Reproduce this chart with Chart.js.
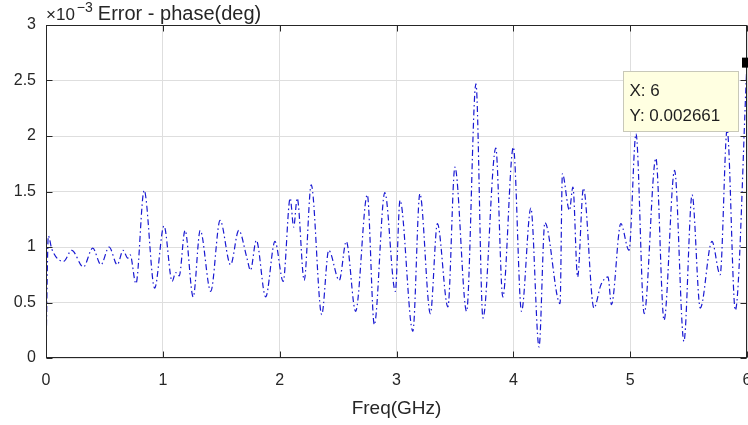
<!DOCTYPE html>
<html>
<head>
<meta charset="utf-8">
<script src="https://cdn.jsdelivr.net/npm/chart.js@4.4.1/dist/chart.umd.min.js"></script>
<style>
    html, body { margin: 0; padding: 0; background: #fff; }
    #wrap { width: 748px; height: 425px; }
</style>
</head>
<body>
<div id="wrap"><canvas id="errChart"></canvas></div>
<script>
// --- Data ---
// frequency (GHz) and phase error (x 1e-3 deg)
const freqGHz = [
    0.00, 0.02, 0.05, 0.15, 0.22, 0.32, 0.40, 0.47, 0.54, 0.61, 0.66, 0.70, 0.72, 0.77, 0.84, 0.93,
    1.01, 1.08, 1.11, 1.14, 1.19, 1.26, 1.32, 1.41, 1.49, 1.58, 1.65, 1.72, 1.75, 1.80, 1.88, 1.96,
    2.03, 2.09, 2.12, 2.15, 2.21, 2.27, 2.36, 2.42, 2.51, 2.57, 2.65, 2.75, 2.81, 2.90, 2.99,
    3.03, 3.14, 3.20, 3.29, 3.35, 3.44, 3.50, 3.60, 3.68, 3.74, 3.85, 3.91,
    4.00, 4.07, 4.15, 4.22, 4.27, 4.40, 4.42, 4.48, 4.51, 4.55, 4.60, 4.69, 4.75, 4.81, 4.84, 4.92, 4.99,
    5.05, 5.12, 5.22, 5.29, 5.38, 5.46, 5.53, 5.60, 5.70, 5.77, 5.83, 5.90, 6.00
];
const errPhase = [
    0.05, 1.10, 0.98, 0.87, 0.97, 0.82, 0.99, 0.84, 1.00, 0.84, 0.97, 0.90, 0.93, 0.67, 1.51, 0.63,
    1.19, 0.69, 0.77, 0.74, 1.15, 0.55, 1.15, 0.60, 1.24, 0.84, 1.15, 0.90, 0.79, 1.06, 0.55, 1.05,
    0.69, 1.44, 1.18, 1.44, 0.70, 1.56, 0.39, 0.97, 0.70, 1.05, 0.42, 1.47, 0.30, 1.49, 0.60,
    1.42, 0.24, 1.48, 0.40, 1.21, 0.46, 1.72, 0.42, 2.47, 0.36, 1.89, 0.55,
    1.90, 0.42, 1.35, 0.10, 1.22, 0.49, 1.66, 1.33, 1.54, 0.73, 1.53, 0.45, 0.66, 0.73, 0.48, 1.21, 0.97,
    2.02, 0.40, 1.80, 0.34, 1.69, 0.15, 1.47, 0.45, 1.05, 0.75, 2.06, 0.43, 2.661
];
const xTicks = [0, 1, 2, 3, 4, 5, 6];
const yTicks = [0, 0.5, 1, 1.5, 2, 2.5, 3];
const yExponent = -3;
const titleText = "Error - phase(deg)";
const xLabel = "Freq(GHz)";

const axisColor = "rgb(38,38,38)";
const gridColor = "rgb(222,222,222)";
const fontFamily = "'Liberation Sans', Arial, Helvetica, sans-serif";

// --- MATLAB-like decorations: box, inward ticks, exponent/title, datatip ---
const matlabAxes = {
    id: "matlabAxes",
    afterDatasetsDraw(chart) {
        const { ctx, chartArea: a, scales } = chart;
        const xs = scales.x, ys = scales.y;
        const L = Math.round(a.left) + 0.5, R = Math.round(a.right) - 0.5;
        const T = Math.round(a.top) + 0.5, B = Math.round(a.bottom) - 0.5;
        ctx.save();
        ctx.strokeStyle = axisColor;
        ctx.lineWidth = 1;
        ctx.strokeRect(L, T, R - L, B - T);
        ctx.beginPath();
        xTicks.forEach((v) => {
            const px = Math.round(xs.getPixelForValue(v)) + 0.5;
            ctx.moveTo(px, B); ctx.lineTo(px, B - 6);
            ctx.moveTo(px, T); ctx.lineTo(px, T + 6);
        });
        yTicks.forEach((v) => {
            const py = Math.round(ys.getPixelForValue(v)) + 0.5;
            ctx.moveTo(L, py); ctx.lineTo(L + 6, py);
            ctx.moveTo(R, py); ctx.lineTo(R - 6, py);
        });
        ctx.stroke();

        // datatip on last point
        const n = freqGHz.length - 1;
        const mx = xs.getPixelForValue(freqGHz[n]);
        const my = ys.getPixelForValue(errPhase[n]);
        ctx.fillStyle = "#000";
        ctx.fillRect(mx - 5, my - 5, 10, 10);
        const bx = Math.round(mx - 124) + 0.5, by = Math.round(my + 8) + 0.5;
        ctx.fillStyle = "rgb(255,255,225)";
        ctx.fillRect(bx, by, 115, 60);
        ctx.strokeStyle = "rgb(200,200,185)";
        ctx.strokeRect(bx, by, 115, 60);
        ctx.fillStyle = "rgb(30,30,30)";
        ctx.font = "17px " + fontFamily;
        ctx.textAlign = "left";
        ctx.textBaseline = "alphabetic";
        ctx.fillText("X: " + freqGHz[n], bx + 6, by + 24);
        ctx.fillText("Y: " + (errPhase[n] * Math.pow(10, yExponent)).toFixed(6), bx + 6, by + 49);
        ctx.restore();
    },
    afterDraw(chart) {
        const { ctx, chartArea: a } = chart;
        ctx.save();
        ctx.fillStyle = axisColor;
        ctx.textBaseline = "alphabetic";
        ctx.textAlign = "left";
        let x = a.left;
        const base = 20;
        ctx.font = "17px " + fontFamily;
        ctx.fillText("\u00d710", x, base);
        x += ctx.measureText("\u00d710").width + 2;
        ctx.font = "14px " + fontFamily;
        const sup = "\u2212" + Math.abs(yExponent);
        ctx.fillText(sup, x, base - 8);
        x += ctx.measureText(sup).width + 5;
        ctx.font = "20px " + fontFamily;
        ctx.fillText(titleText, x, base);
        ctx.restore();
    },
};

const ctx = document.getElementById("errChart").getContext("2d");
const errChart = new Chart(ctx, {
    type: "line",
    data: {
        datasets: [
            {
                data: freqGHz.map((f, i) => ({ x: f, y: errPhase[i] })),
                borderColor: "rgb(25,25,210)",
                borderWidth: 1.2,
                borderDash: [6, 3, 1.5, 3],
                pointRadius: 0,
                fill: false,
                cubicInterpolationMode: "monotone",
            },
        ],
    },
    options: {
        responsive: true,
        maintainAspectRatio: false,
        animation: false,
        layout: { padding: { top: 25, right: 1, left: 0, bottom: 0 } },
        plugins: {
            legend: { display: false },
            tooltip: { enabled: false },
            title: { display: false },
        },
        scales: {
            x: {
                type: "linear",
                min: 0,
                max: 6,
                afterBuildTicks: (s) => { s.ticks = xTicks.map((v) => ({ value: v })); },
                afterFit: (s) => { s.height = 67; s.paddingRight = 0; s.paddingLeft = 0; },
                // invisible tick marks give the label offset without extra side padding
                grid: { color: gridColor, drawTicks: true, tickLength: 13, tickColor: "rgba(0,0,0,0)" },
                border: { display: false },
                ticks: {
                    padding: 0,
                    color: axisColor,
                    font: { family: fontFamily, size: 16 },
                    maxRotation: 0,
                    callback: (v) => String(v),
                },
                title: {
                    display: true,
                    text: xLabel,
                    color: axisColor,
                    font: { family: fontFamily, size: 19 },
                    padding: { top: 0, bottom: 5 },
                },
            },
            y: {
                min: 0,
                max: 3,
                afterBuildTicks: (s) => { s.ticks = yTicks.map((v) => ({ value: v })); },
                afterFit: (s) => { s.width = 46; },
                grid: { color: gridColor, drawTicks: true, tickLength: 10, tickColor: "rgba(0,0,0,0)" },
                border: { display: false },
                ticks: {
                    padding: 0,
                    color: axisColor,
                    font: { family: fontFamily, size: 16 },
                    callback: (v) => String(v),
                },
            },
        },
    },
    plugins: [matlabAxes],
});
</script>
</body>
</html>
